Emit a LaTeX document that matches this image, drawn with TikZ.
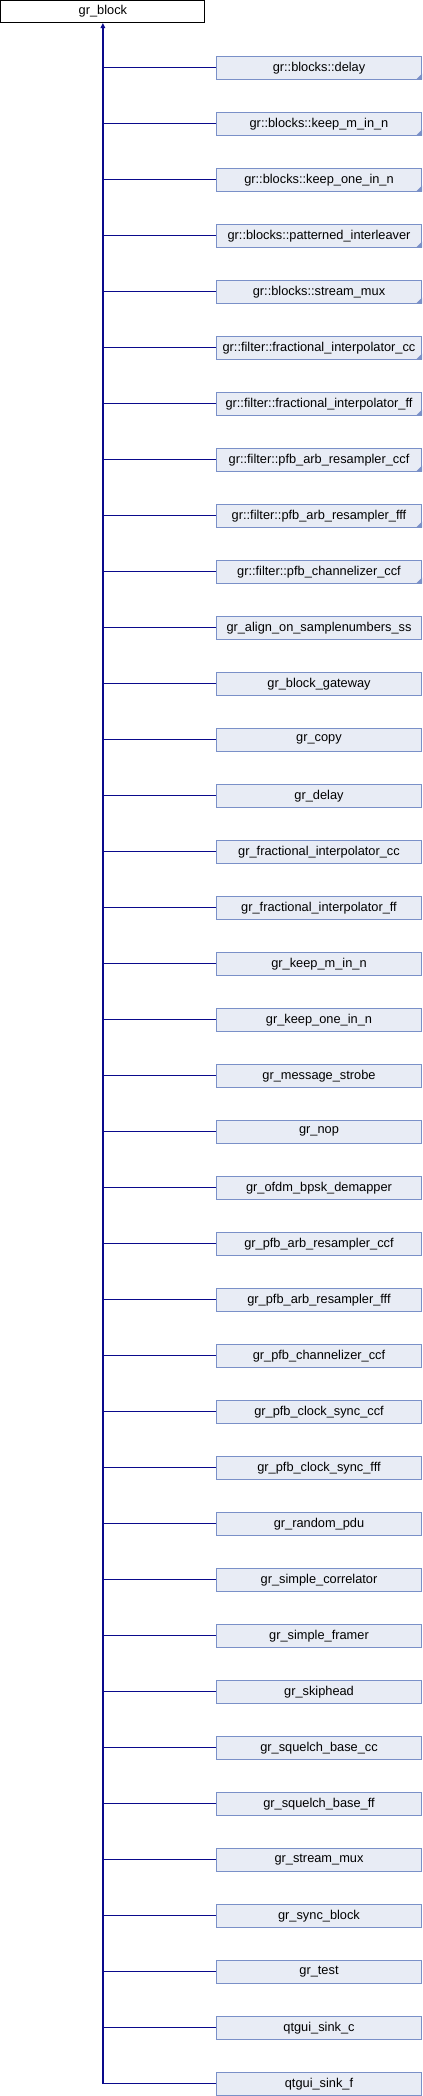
\documentclass[tikz,border=0pt]{standalone}
\usepackage{fontspec}
\setmainfont{Liberation Sans}
\usetikzlibrary{arrows.meta}
\definecolor{boxfill}{HTML}{E8ECF5}
\definecolor{boxline}{HTML}{7A90C8}
\definecolor{edgecol}{HTML}{0A0A8C}
\tikzset{
  rootbox/.style={draw=black,fill=white,line width=1bp,rectangle,inner sep=0pt,
    minimum width=204bp,minimum height=22bp,font=\fontsize{12.8bp}{14bp}\selectfont},
  childbox/.style={draw=boxline,fill=boxfill,line width=1bp,rectangle,inner sep=0pt,
    minimum width=205bp,minimum height=22.5bp,font=\fontsize{12.8bp}{14bp}\selectfont},
  edge/.style={draw=edgecol,line width=1.2bp},
  corner/.style={fill=boxline}
}
\begin{document}
\begin{tikzpicture}[x=1bp,y=-1bp]
\useasboundingbox (0,0) rectangle (422,2096);
\node[rootbox] (root) at (102.9,11.5) {gr\_block};
\foreach \i/\t in {
1/gr::blocks::delay,
2/gr::blocks::keep\_m\_in\_n,
3/gr::blocks::keep\_one\_in\_n,
4/gr::blocks::patterned\_interleaver,
5/gr::blocks::stream\_mux,
6/gr::filter::fractional\_interpolator\_cc,
7/gr::filter::fractional\_interpolator\_ff,
8/gr::filter::pfb\_arb\_resampler\_ccf,
9/gr::filter::pfb\_arb\_resampler\_fff,
10/gr::filter::pfb\_channelizer\_ccf,
11/gr\_align\_on\_samplenumbers\_ss,
12/gr\_block\_gateway,
13/gr\_copy,
14/gr\_delay,
15/gr\_fractional\_interpolator\_cc,
16/gr\_fractional\_interpolator\_ff,
17/gr\_keep\_m\_in\_n,
18/gr\_keep\_one\_in\_n,
19/gr\_message\_strobe,
20/gr\_nop,
21/gr\_ofdm\_bpsk\_demapper,
22/gr\_pfb\_arb\_resampler\_ccf,
23/gr\_pfb\_arb\_resampler\_fff,
24/gr\_pfb\_channelizer\_ccf,
25/gr\_pfb\_clock\_sync\_ccf,
26/gr\_pfb\_clock\_sync\_fff,
27/gr\_random\_pdu,
28/gr\_simple\_correlator,
29/gr\_simple\_framer,
30/gr\_skiphead,
31/gr\_squelch\_base\_cc,
32/gr\_squelch\_base\_ff,
33/gr\_stream\_mux,
34/gr\_sync\_block,
35/gr\_test,
36/qtgui\_sink\_c,
37/qtgui\_sink\_f}{
  \node[childbox] (n\i) at (319,{67.8+56*(\i-1)}) {\t};
  \draw[edge] (n\i.west -| root.south) -- (n\i.west);
}
\foreach \i in {1,...,10}{
  \fill[corner] (n\i.south east) -- ++(-6,0) -- ++(6,-6) -- cycle;
}
\draw[edge,-{Triangle[length=5bp,width=4.5bp]}] (n37.west -| root.south) -- (root.south);
\end{tikzpicture}
\end{document}
